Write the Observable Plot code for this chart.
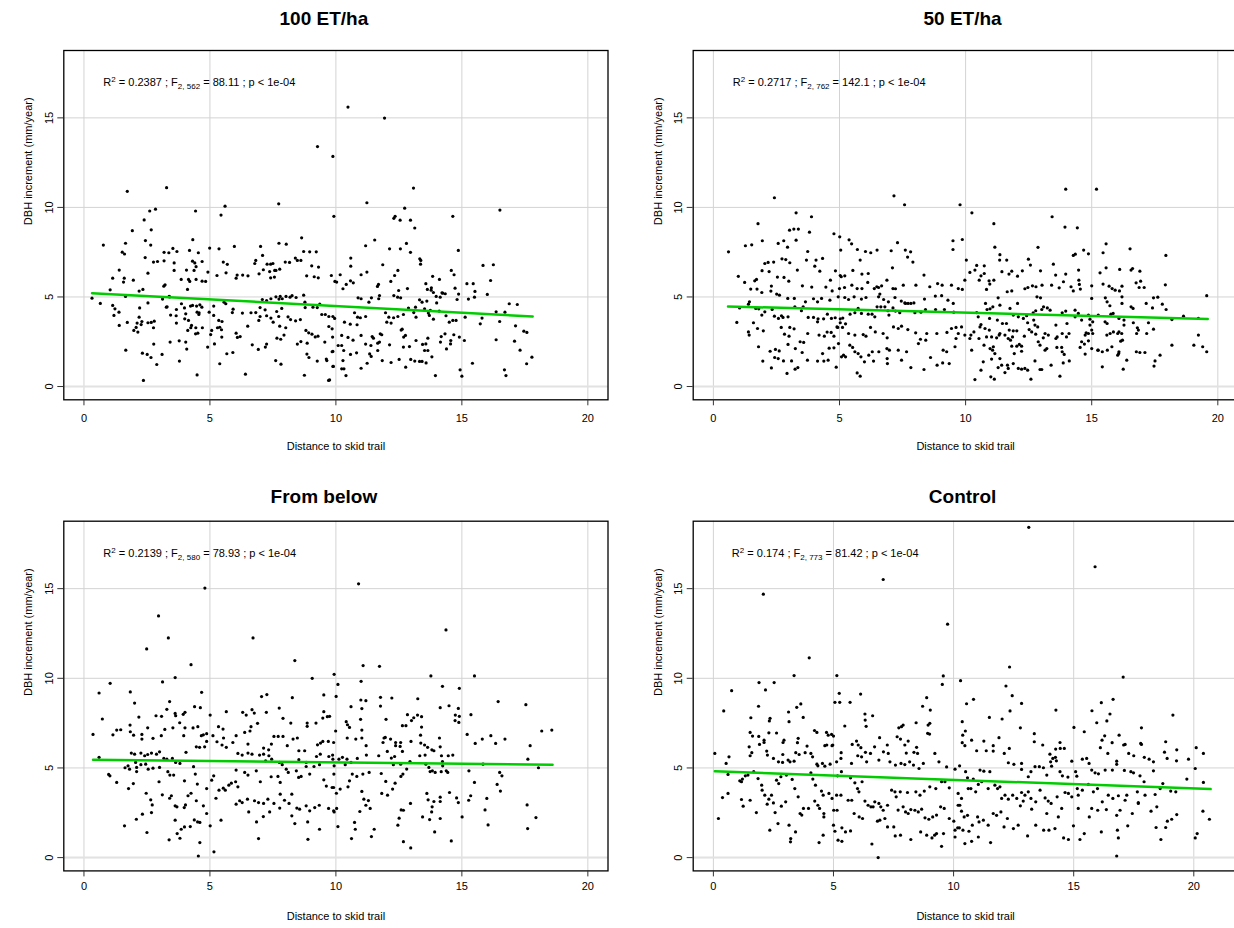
<!DOCTYPE html>
<html><head><meta charset="utf-8">
<script src="https://cdn.jsdelivr.net/npm/d3@7"></script>
<script src="https://cdn.jsdelivr.net/npm/@observablehq/plot@0.6"></script>
<style>
html,body{margin:0;padding:0;background:#fff;overflow:hidden;}
#wrap{position:relative;width:1234px;height:928px;overflow:hidden;background:#fff;}
.panel{position:absolute;overflow:visible;}
</style></head><body><div id="wrap"></div>
<script>
// ---------- data ----------
const xTicks = [0, 5, 10, 15, 20];
const yTicks = [0, 5, 10, 15];
const panelTitles = ["100 ET/ha", "50 ET/ha", "From below", "Control"];
const xLabel = "Distance to skid trail";
const yLabel = "DBH increment (mm/year)";
const r2Values = ["0.2387", "0.2717", "0.2139", "0.174"];
const dfDenom = ["562", "762", "580", "773"];
const fValues = ["88.11", "142.1", "78.93", "81.42"];
const xUpper = [20, 20, 20, 21];
const yUpper = 18.04;
const fitStart = [[0.32, 5.21], [0.58, 4.47], [0.36, 5.46], [0.06, 4.82]];
const fitEnd = [[17.81, 3.91], [19.6, 3.77], [18.6, 5.18], [20.7, 3.82]];

const pts100 = [[9.27,13.4],[9.88,12.85],[9.92,9.5],[1.72,10.9],[3.28,11.1],[1.92,8.7],[0.77,7.9],[2.39,9.3],[2.61,9.8],[2.84,9.9],[2.67,8.75],[1.65,8.0],[2.44,8.15],[2.65,7.9],[1.52,7.5],[1.61,7.4],[4.43,9.8],[5.6,10.07],[5.44,9.57],[4.32,8.2],[7.73,10.2],[8.64,8.3],[7.74,8.0],[8.03,7.95],[8.72,7.54],[8.96,7.52],[9.22,7.52],[5.97,7.82],[4.99,7.73],[5.36,7.69],[3.18,7.49],[3.37,7.47],[3.53,7.71],[3.69,7.54],[4.19,7.6],[4.54,7.47],[7.01,7.82],[7.09,7.32],[8.39,7.17],[8.61,7.04],[2.43,7.2],[2.76,6.95],[2.92,6.98],[3.18,7.02],[3.58,6.9],[3.58,6.48],[1.4,6.5],[1.14,6.05],[1.6,6.05],[1.96,5.94],[1.57,5.83],[2.54,6.33],[4.07,6.5],[4.4,6.9],[4.31,7.0],[4.45,6.69],[4.37,6.48],[4.69,6.98],[3.86,5.98],[4.15,5.98],[4.2,5.87],[4.11,5.42],[4.45,5.98],[4.69,5.88],[4.83,5.87],[4.92,6.39],[5.28,6.2],[5.53,6.95],[5.69,6.82],[5.64,6.35],[6.08,6.22],[6.04,6.05],[6.3,6.22],[6.51,6.18],[6.78,6.87],[6.82,7.04],[6.95,6.29],[7.12,6.52],[7.27,6.83],[7.41,6.83],[7.5,6.87],[7.37,6.42],[7.57,6.48],[7.62,6.48],[7.77,6.55],[7.41,6.07],[7.56,6.11],[7.99,6.95],[8.16,6.93],[8.47,7.04],[8.84,6.18],[9.04,6.74],[9.14,6.13],[9.3,6.07],[9.31,6.67],[3.17,5.6],[3.22,5.68],[3.38,5.03],[3.12,4.88],[3.27,4.43],[3.4,5.0],[2.19,5.33],[2.34,5.42],[1.04,5.4],[1.65,5.03],[0.32,4.93],[0.65,4.64],[1.14,4.53],[1.23,4.34],[1.19,3.97],[1.39,4.15],[1.4,3.41],[1.72,3.58],[2.21,4.39],[2.19,3.87],[2.54,4.67],[2.11,3.54],[2.3,3.63],[2.27,3.46],[2.07,3.3],[2.14,3.04],[1.98,3.13],[2.54,3.56],[2.67,3.58],[2.79,3.65],[2.76,3.28],[3.3,4.45],[3.44,3.99],[3.67,4.3],[3.66,3.95],[3.67,3.54],[3.87,4.62],[3.99,4.39],[4.04,4.06],[4.0,3.78],[4.15,3.69],[4.23,4.49],[4.31,4.53],[4.47,4.49],[4.6,4.56],[4.68,4.43],[4.49,4.15],[4.57,4.12],[4.56,4.02],[4.27,3.41],[4.24,3.28],[4.44,3.28],[4.52,2.98],[4.43,2.94],[4.7,3.28],[4.12,3.13],[4.97,4.15],[5.15,3.97],[5.15,4.49],[5.56,4.71],[5.63,4.62],[5.03,2.9],[5.07,3.13],[5.3,3.28],[5.39,3.31],[5.35,3.69],[5.48,3.63],[5.18,2.38],[5.46,3.17],[5.47,2.76],[5.89,4.13],[5.92,4.32],[6.04,2.98],[6.09,2.74],[6.2,2.79],[6.29,4.1],[6.5,3.37],[6.63,4.12],[6.82,4.13],[6.99,4.41],[6.94,3.69],[6.99,3.91],[6.68,2.33],[6.92,2.07],[7.2,2.2],[7.25,2.37],[7.08,4.86],[7.25,4.8],[7.42,4.9],[7.62,5.01],[7.74,4.88],[7.79,5.03],[7.87,4.9],[8.02,5.03],[8.18,4.99],[8.26,5.07],[8.42,4.97],[8.72,5.1],[8.77,4.71],[8.78,4.41],[7.19,4.28],[7.25,3.95],[7.42,3.82],[7.51,3.59],[7.65,4.19],[7.73,3.91],[7.85,4.36],[8.1,3.89],[8.2,3.74],[8.4,3.67],[8.59,3.74],[7.77,3.37],[8.01,3.28],[7.66,2.7],[7.81,2.64],[7.94,2.87],[8.47,2.37],[8.61,2.51],[8.86,2.42],[8.81,3.13],[8.92,3.0],[9.05,2.92],[9.18,2.77],[9.29,2.81],[8.85,1.81],[8.93,1.62],[9.26,1.42],[9.62,1.53],[9.64,1.45],[9.56,2.48],[9.09,4.43],[9.26,4.41],[9.36,4.6],[9.44,4.02],[9.58,4.02],[9.72,3.91],[9.72,3.35],[9.85,3.22],[9.85,1.94],[9.71,0.34],[9.88,1.12],[8.75,0.63],[6.41,0.69],[4.49,0.65],[2.36,0.34],[2.32,1.86],[2.51,1.79],[2.66,1.62],[2.89,1.23],[3.1,1.79],[2.77,2.37],[1.66,2.03],[3.42,2.48],[3.78,2.55],[4.04,2.48],[4.08,2.09],[3.79,1.42],[5.39,1.27],[5.67,1.83],[5.91,1.9],[4.91,2.2],[7.61,1.45],[7.82,1.25],
[10.48,15.6],[11.93,14.99],[13.08,11.08],[11.23,10.26],[12.73,9.96],[12.3,9.39],[12.35,9.5],[12.55,9.29],[12.96,9.29],[13.13,8.85],[14.64,9.5],[16.51,9.85],[11.18,7.86],[11.54,8.18],[12.13,7.69],[12.56,7.69],[12.8,7.99],[12.96,7.49],[14.86,7.6],[10.59,7.17],[10.59,6.72],[11.86,6.8],[13.33,7.13],[13.37,7.04],[13.36,6.83],[15.84,6.76],[16.25,6.8],[11.0,6.24],[11.23,6.39],[12.46,6.48],[12.33,6.2],[10.17,6.24],[9.82,6.2],[9.96,5.87],[10.03,5.83],[10.28,5.46],[10.41,5.7],[10.58,5.9],[10.69,5.79],[11.65,5.59],[11.69,5.7],[11.73,5.08],[12.18,5.87],[12.49,5.36],[12.57,4.95],[12.84,5.47],[13.57,5.74],[13.63,5.42],[13.84,6.15],[14.11,5.98],[13.79,5.51],[13.78,5.38],[13.87,5.25],[14.21,5.23],[14.34,5.18],[14.58,6.48],[14.69,6.24],[14.73,5.49],[15.2,5.74],[15.45,5.74],[15.52,5.31],[16.01,5.14],[16.14,5.92],[14.87,5.16],[14.81,4.86],[15.26,4.88],[15.5,4.99],[16.88,4.62],[17.2,4.58],[10.88,4.95],[11.0,4.9],[11.41,4.95],[11.31,4.71],[11.7,4.9],[12.3,5.08],[12.45,4.99],[13.32,4.84],[13.42,4.71],[13.61,4.77],[13.16,4.43],[13.52,4.34],[13.75,4.25],[14.0,4.67],[13.98,5.03],[14.14,4.99],[14.24,5.21],[10.74,4.12],[10.86,3.87],[10.97,3.84],[11.18,3.91],[9.88,3.91],[9.95,3.8],[10.34,3.59],[10.57,3.48],[10.84,3.45],[11.97,4.12],[12.1,3.87],[12.29,3.84],[12.46,3.91],[12.68,4.02],[12.02,3.59],[12.19,3.54],[12.88,4.38],[13.09,4.13],[13.18,3.87],[13.67,4.1],[13.71,3.97],[13.87,3.76],[14.1,4.21],[14.37,3.95],[14.5,3.59],[14.64,3.69],[14.77,3.69],[15.13,3.87],[15.73,3.5],[15.8,3.82],[16.36,4.17],[16.5,3.63],[16.71,4.15],[17.13,3.39],[17.46,3.09],[17.58,3.02],[16.36,2.61],[17.09,2.53],[17.31,2.03],[17.57,1.27],[17.78,1.64],[16.69,0.93],[16.75,0.61],[15.42,1.3],[14.93,0.93],[15.0,0.58],[14.9,2.76],[15.1,2.57],[14.68,2.89],[14.56,2.57],[14.33,2.94],[14.15,2.48],[14.18,2.79],[14.39,2.1],[14.55,2.38],[13.81,1.66],[13.95,0.61],[13.52,2.01],[13.65,2.01],[13.58,1.32],[13.42,1.4],[13.65,2.7],[13.57,2.38],[13.44,2.35],[12.69,2.76],[12.76,2.85],[13.18,2.57],[12.92,2.23],[12.68,2.2],[12.77,1.08],[12.97,1.51],[13.13,1.42],[13.32,1.4],[12.59,3.15],[12.63,3.2],[12.51,1.51],[12.13,2.33],[12.19,1.34],[11.84,1.45],[11.66,2.01],[11.73,2.48],[11.76,2.94],[11.82,2.89],[11.66,2.42],[11.44,2.79],[11.49,2.7],[11.39,2.29],[11.18,2.37],[11.34,1.82],[11.4,1.68],[11.24,1.3],[11.0,2.85],[11.0,1.02],[10.82,1.88],[10.58,1.79],[10.48,2.74],[10.68,2.59],[10.23,2.85],[10.23,2.29],[10.28,1.45],[10.31,2.01],[10.23,0.99],[10.32,0.99],[10.4,0.61],[9.88,1.96],[9.9,1.12],[9.87,2.76],[10.09,2.29],[9.75,0.37]];

const pts50 = [[2.42,10.54],[7.16,10.65],[7.58,10.15],[9.78,10.15],[3.28,9.7],[3.89,9.48],[1.77,9.09],[3.02,8.73],[3.19,8.79],[3.37,8.79],[3.81,8.62],[4.78,8.53],[5.01,8.36],[5.38,8.19],[5.48,7.97],[0.6,7.52],[1.27,7.86],[1.52,7.91],[1.94,8.14],[2.57,7.99],[2.79,8.14],[2.94,7.78],[3.28,8.17],[5.05,7.62],[5.71,7.65],[6.03,7.54],[6.24,7.47],[6.49,7.62],[7.05,7.58],[7.3,8.03],[7.61,7.62],[7.82,7.52],[9.5,8.14],[9.5,7.65],[3.74,7.54],[2.72,7.13],[2.87,7.09],[3.03,6.91],[2.04,6.87],[2.17,6.93],[2.39,6.95],[3.69,7.06],[4.07,7.06],[4.33,7.15],[4.02,6.72],[1.93,6.47],[3.33,6.5],[4.22,6.44],[5.82,7.06],[7.7,7.23],[7.91,6.95],[7.1,6.63],[4.84,6.46],[5.03,6.2],[5.21,6.18],[5.53,6.48],[5.89,6.28],[6.14,6.31],[0.99,6.15],[1.24,5.81],[1.64,5.9],[1.71,5.98],[2.3,5.61],[2.54,6.11],[2.8,6.09],[2.99,5.88],[2.21,6.42],[2.62,5.1],[2.51,5.16],[1.92,5.25],[1.73,5.44],[1.48,5.44],[2.28,5.33],[3.53,5.62],[3.9,5.55],[4.46,5.55],[4.64,5.94],[4.71,5.34],[5.0,5.47],[5.07,6.13],[5.2,5.53],[5.49,5.66],[5.7,5.47],[5.89,5.47],[6.12,5.81],[6.38,5.47],[6.48,5.57],[6.55,5.53],[6.67,5.62],[6.88,5.94],[7.12,5.47],[7.22,5.46],[7.53,5.66],[8.03,5.66],[8.35,6.22],[8.58,5.57],[8.89,5.75],[9.07,5.66],[9.44,5.66],[9.71,5.47],[2.95,4.92],[3.21,4.92],[3.65,4.73],[3.97,4.9],[4.13,4.73],[4.29,4.92],[4.62,4.82],[4.95,5.01],[5.21,4.97],[5.36,4.86],[5.58,5.01],[5.87,4.88],[6.05,4.97],[6.55,5.01],[6.6,5.16],[6.75,4.86],[6.94,4.73],[7.2,4.97],[7.45,4.77],[7.59,4.67],[7.72,4.64],[7.95,4.67],[8.37,4.88],[8.8,5.05],[9.05,5.07],[9.3,4.82],[9.51,4.64],[0.93,3.58],[1.04,4.39],[1.43,4.73],[1.39,4.6],[1.68,4.36],[1.8,4.34],[2.04,4.17],[1.92,3.99],[2.33,4.3],[2.42,3.93],[2.58,3.8],[2.7,3.95],[2.76,3.86],[2.96,3.89],[3.23,4.45],[3.56,4.45],[3.49,4.23],[3.76,3.86],[3.97,3.86],[4.15,3.78],[4.13,3.61],[4.37,3.78],[4.52,4.04],[4.68,3.8],[4.83,3.84],[5.03,3.78],[5.13,3.82],[5.24,3.5],[5.12,3.3],[4.93,3.3],[5.42,4.04],[5.61,4.12],[5.74,4.36],[5.87,4.08],[6.14,4.04],[6.29,4.04],[6.4,3.89],[6.49,4.45],[6.64,4.45],[6.8,4.45],[6.92,4.23],[6.96,3.99],[7.12,4.39],[7.22,4.21],[7.39,4.12],[7.62,4.64],[7.83,4.64],[7.99,4.12],[8.23,4.15],[8.41,4.3],[8.81,4.3],[9.16,4.3],[9.53,4.15],[1.39,3.05],[1.42,2.87],[1.98,3.11],[1.75,3.24],[1.59,3.56],[2.82,2.92],[3.0,2.81],[3.2,3.22],[2.69,3.3],[3.03,3.3],[3.44,2.5],[3.58,2.46],[3.74,2.96],[4.19,2.87],[4.4,2.81],[4.51,3.04],[4.67,3.02],[4.78,2.81],[4.9,3.33],[5.03,3.56],[5.36,2.96],[5.61,2.87],[5.94,2.9],[6.05,2.81],[6.23,3.3],[6.42,3.05],[6.73,2.96],[6.89,2.72],[7.14,3.33],[7.33,3.24],[7.46,3.37],[7.71,3.18],[8.02,3.0],[8.46,2.96],[8.86,2.96],[9.26,3.02],[9.44,3.24],[9.62,3.3],[1.79,2.22],[2.25,1.97],[2.46,2.07],[2.61,1.99],[2.43,1.62],[2.57,1.56],[2.78,1.43],[1.96,1.42],[2.3,1.04],[2.92,0.73],[3.24,0.97],[3.35,1.06],[3.1,1.43],[2.96,2.35],[3.25,2.12],[3.52,1.9],[3.73,1.47],[4.13,1.42],[4.38,1.42],[4.55,1.47],[4.87,1.08],[4.33,1.84],[4.59,2.14],[4.78,2.16],[4.96,2.4],[5.08,1.66],[5.16,1.75],[5.24,1.66],[5.41,2.31],[5.52,2.18],[5.61,1.94],[5.74,1.84],[5.85,1.66],[6.16,1.75],[6.3,1.94],[6.56,1.94],[5.99,1.38],[6.35,1.42],[5.7,0.76],[5.82,0.58],[6.88,2.12],[6.98,2.03],[6.89,1.56],[6.9,1.28],[7.33,2.03],[7.66,1.94],[7.46,1.47],[7.83,1.06],[8.35,0.95],[8.61,1.62],[8.87,1.19],[9.09,1.32],[9.35,1.28],[9.11,2.03],[9.25,1.94],[9.58,2.22],[9.62,2.68],[9.71,2.96],[8.13,2.4],[8.21,2.64],[8.42,2.59],
[13.97,11.02],[15.19,11.02],[10.25,9.7],[11.12,9.09],[13.43,9.48],[13.94,8.9],[14.43,8.86],[9.87,8.21],[10.03,7.06],[11.16,7.78],[11.36,7.36],[11.35,7.06],[11.63,7.06],[12.87,7.77],[14.27,7.32],[14.35,7.39],[14.68,7.62],[14.87,7.41],[15.57,7.97],[15.45,7.47],[16.52,7.69],[17.94,7.32],[10.44,6.76],[10.74,6.74],[10.74,6.31],[10.37,6.5],[10.17,6.37],[9.97,5.94],[9.87,5.42],[10.54,5.94],[10.61,6.18],[10.93,5.9],[11.12,5.94],[11.44,6.41],[11.72,6.28],[11.83,6.44],[12.06,6.16],[12.25,6.46],[12.49,7.11],[12.57,6.78],[12.97,6.46],[13.48,6.83],[13.57,6.22],[13.97,6.28],[14.48,6.5],[14.49,5.94],[14.51,5.7],[15.0,5.62],[15.33,6.35],[15.45,5.72],[15.57,6.63],[15.69,5.6],[15.81,5.47],[16.11,6.54],[15.93,5.38],[16.1,5.34],[16.2,5.6],[16.2,5.01],[16.56,6.5],[16.62,6.59],[16.91,6.44],[16.94,5.88],[16.76,5.79],[16.88,5.53],[17.08,5.53],[17.92,5.68],[19.56,5.07],[10.83,5.42],[10.96,5.72],[11.29,4.95],[11.65,5.29],[11.83,5.34],[12.06,4.64],[12.35,5.46],[12.47,5.53],[12.65,5.62],[12.79,5.57],[12.83,5.01],[12.97,4.95],[13.03,5.66],[13.09,4.45],[13.41,5.66],[13.71,5.51],[13.88,5.85],[14.18,5.57],[14.27,5.34],[14.55,5.44],[15.0,4.92],[15.54,4.95],[15.61,4.73],[15.72,4.51],[16.2,4.64],[17.45,4.95],[17.62,4.99],[17.16,4.64],[17.41,4.39],[17.8,4.6],[17.95,4.3],[16.56,4.45],[16.64,4.36],[10.44,4.13],[10.5,3.89],[10.79,4.64],[10.85,4.3],[10.97,4.34],[11.08,4.45],[11.36,4.54],[10.95,3.8],[11.26,3.71],[11.46,3.52],[11.62,3.52],[11.76,4.36],[11.89,3.99],[12.09,3.89],[12.29,3.8],[12.42,3.95],[12.68,4.12],[12.78,4.23],[13.02,4.3],[13.24,4.39],[13.35,4.26],[12.75,3.43],[12.86,3.33],[12.7,3.71],[13.58,3.43],[13.83,4.12],[13.97,4.21],[14.34,4.26],[14.47,4.08],[14.34,3.89],[14.6,3.71],[14.87,3.99],[14.93,3.76],[15.04,3.61],[14.93,3.43],[15.26,3.99],[15.53,3.61],[15.61,3.52],[15.76,4.04],[15.85,4.08],[16.08,3.8],[16.28,3.71],[16.28,3.43],[16.65,3.56],[16.81,3.28],[16.85,3.15],[17.25,3.56],[17.45,3.2],[17.18,2.96],[18.18,3.74],[18.64,3.93],[19.23,3.8],[19.23,2.87],[19.05,2.31],[19.4,2.22],[19.56,1.94],[18.18,2.31],[17.71,1.75],[17.51,1.43],[17.47,1.14],[16.78,2.96],[16.77,1.94],[16.91,1.9],[17.11,1.9],[16.39,1.47],[16.25,0.97],[16.08,3.05],[16.03,2.96],[16.19,2.96],[16.22,2.59],[16.15,2.53],[16.08,1.94],[16.07,1.84],[16.03,1.75],[15.6,2.87],[15.73,2.96],[15.86,3.05],[15.8,2.22],[15.62,2.03],[15.42,1.94],[15.26,2.03],[15.42,1.1],[15.04,2.96],[15.0,3.15],[14.87,2.96],[14.74,2.87],[14.78,3.0],[14.87,2.55],[14.6,2.5],[14.71,2.37],[14.54,2.18],[14.74,1.81],[15.0,2.12],[15.24,2.03],[14.02,3.52],[14.1,2.96],[14.0,2.77],[13.83,2.96],[13.63,2.77],[13.58,2.68],[13.62,2.18],[13.81,2.18],[13.83,1.94],[13.91,1.79],[13.87,1.32],[13.74,0.58],[14.11,1.43],[13.28,2.87],[13.15,2.96],[13.08,2.72],[13.22,2.12],[13.15,2.03],[13.39,1.19],[13.02,0.95],[12.95,0.95],[12.75,1.43],[12.88,2.5],[12.95,2.31],[12.78,2.92],[12.62,3.05],[12.59,0.41],[12.46,3.56],[12.52,3.18],[12.33,2.81],[12.22,2.25],[12.22,1.97],[12.35,1.01],[12.46,0.91],[12.22,0.97],[12.09,1.01],[11.89,1.28],[11.69,1.01],[11.56,0.78],[11.66,1.19],[12.13,2.35],[12.03,2.25],[11.93,1.84],[11.83,2.25],[11.73,3.15],[11.89,3.11],[12.03,3.11],[11.69,2.68],[11.78,2.59],[11.86,2.77],[11.56,2.87],[11.33,2.87],[11.36,2.96],[11.23,2.72],[11.03,2.77],[10.94,3.15],[11.1,2.22],[10.97,2.12],[11.07,2.03],[11.16,1.84],[11.03,1.53],[11.36,1.56],[11.43,1.19],[11.29,1.06],[11.14,0.41],[11.0,0.54],[10.73,2.31],[10.7,1.38],[10.61,0.91],[10.37,0.39],[10.24,2.03],[10.17,2.68],[10.21,2.87],[9.97,2.87],[9.84,3.33],[10.57,3.33],[10.61,3.46],[10.77,3.24],[10.83,2.77],[10.53,2.68],[10.33,3.05]];

const ptsBelow = [[4.8,15.03],[2.96,13.48],[3.35,12.25],[2.49,11.64],[6.71,12.25],[8.37,10.99],[4.25,10.76],[3.62,10.04],[3.12,9.8],[1.04,9.72],[9.06,10.0],[9.93,10.22],[0.6,9.18],[1.84,9.24],[4.67,9.22],[2.01,8.62],[3.4,8.7],[4.39,8.42],[4.62,8.36],[7.05,8.98],[7.26,9.09],[8.27,8.92],[9.52,9.07],[0.73,7.73],[2.18,7.84],[2.86,7.91],[3.08,7.88],[3.29,8.27],[3.62,8.04],[3.64,7.91],[3.94,7.99],[4.01,8.1],[5.01,7.95],[5.65,8.14],[6.3,8.1],[6.44,7.95],[6.67,8.25],[6.76,8.06],[6.89,7.49],[7.24,8.1],[7.75,8.34],[7.9,7.77],[8.21,7.5],[8.86,7.5],[8.86,7.32],[9.21,7.5],[9.48,7.78],[9.66,7.86],[9.52,8.14],[0.36,6.87],[1.15,6.85],[1.3,7.11],[1.46,7.13],[1.83,7.39],[1.84,7.02],[1.97,6.83],[2.3,6.87],[2.53,7.24],[2.3,6.61],[2.74,6.65],[3.07,6.8],[3.21,7.15],[3.53,7.24],[3.8,7.52],[4.01,7.24],[3.96,6.8],[4.33,7.23],[4.52,7.3],[4.66,6.8],[4.74,6.85],[4.87,6.91],[4.46,6.18],[4.59,6.15],[4.79,6.18],[4.87,6.48],[5.12,6.8],[5.34,7.3],[5.52,7.17],[5.54,6.67],[5.28,6.46],[5.48,6.28],[5.65,6.15],[5.91,6.42],[6.04,6.8],[6.38,6.98],[6.59,7.06],[6.63,7.3],[6.51,6.33],[7.13,6.11],[7.33,6.01],[7.44,6.33],[7.54,6.76],[7.71,6.76],[7.9,6.76],[8.07,6.24],[8.3,6.61],[8.47,6.67],[8.53,5.96],[8.76,5.96],[9.27,6.29],[9.39,6.39],[9.48,6.48],[9.7,6.48],[9.91,6.42],[0.6,5.59],[0.98,4.64],[1.03,4.56],[1.3,4.19],[1.63,5.01],[1.75,5.12],[1.81,4.93],[1.77,3.85],[1.96,4.13],[1.88,5.83],[2.01,5.77],[2.26,5.83],[2.05,5.31],[2.09,5.03],[2.09,4.8],[2.41,5.68],[2.53,5.75],[2.68,5.83],[2.88,5.77],[3.0,5.9],[3.17,5.53],[3.29,5.49],[3.51,5.53],[2.26,5.18],[2.45,5.21],[2.55,4.93],[2.74,4.99],[3.0,5.03],[2.98,4.23],[3.33,4.79],[3.41,4.6],[3.56,4.6],[3.64,5.31],[3.81,5.25],[3.99,4.28],[4.05,5.87],[4.35,5.07],[4.42,4.66],[2.47,3.59],[2.65,3.22],[2.71,2.94],[2.68,2.51],[2.32,2.42],[2.08,2.14],[1.61,1.77],[2.5,1.4],[3.11,3.5],[3.47,3.45],[3.4,3.31],[3.62,2.89],[3.69,2.83],[3.98,2.79],[4.13,3.45],[4.03,2.94],[4.25,3.59],[4.46,3.17],[4.5,4.1],[4.87,3.85],[3.62,2.09],[3.7,1.34],[3.38,0.99],[3.81,1.08],[3.86,1.58],[3.99,1.71],[4.22,1.73],[4.38,2.1],[4.51,1.99],[4.6,1.96],[5.01,1.77],[4.74,2.89],[4.87,2.46],[5.24,3.31],[5.44,2.09],[4.6,0.84],[4.54,0.09],[5.16,0.32],[5.07,4.32],[5.15,4.56],[5.36,3.76],[5.53,3.87],[5.61,3.76],[5.75,4.04],[5.85,4.15],[6.02,4.23],[6.11,3.95],[6.04,4.88],[6.38,4.75],[6.51,4.6],[6.84,4.84],[7.0,4.23],[7.43,4.51],[7.7,4.53],[7.79,4.19],[7.87,5.18],[8.03,4.93],[8.11,4.75],[8.43,4.84],[8.52,4.47],[8.62,4.53],[8.82,5.08],[8.96,4.66],[9.13,5.08],[9.35,5.18],[9.52,4.34],[9.62,3.99],[9.85,3.91],[9.92,4.66],[6.04,2.98],[6.18,3.17],[6.28,3.07],[6.49,3.26],[6.54,2.55],[6.77,3.17],[6.93,3.07],[7.13,3.02],[7.3,3.26],[7.54,3.02],[7.79,3.54],[7.96,3.2],[8.14,3.02],[8.25,3.54],[8.45,2.76],[8.56,2.7],[8.82,2.89],[8.96,2.61],[9.16,2.79],[9.34,2.92],[9.71,2.74],[9.91,2.61],[6.93,1.06],[6.85,1.99],[7.12,2.29],[7.37,2.55],[7.77,2.76],[8.25,2.33],[8.37,1.9],[8.88,1.99],[8.89,1.02],[9.35,1.58],[6.11,5.81],[6.28,5.72],[6.51,5.83],[6.67,5.77],[6.97,5.72],[7.13,5.77],[7.34,5.68],[7.45,5.49],[7.21,5.4],[7.76,5.31],[8.53,5.46],[8.82,5.31],[9.23,5.64],[9.38,5.77],[9.72,5.64],[9.88,5.49],
[10.9,15.27],[14.37,12.7],[11.08,10.71],[11.73,10.67],[13.77,10.13],[15.5,10.13],[11.0,9.83],[10.08,9.66],[14.23,9.55],[14.9,9.44],[10.01,8.99],[10.99,8.79],[11.19,8.75],[11.77,8.94],[12.22,8.9],[13.25,8.86],[16.44,8.7],[17.54,8.53],[10.6,8.42],[11.03,8.31],[11.77,8.45],[14.14,8.36],[14.49,8.47],[14.86,8.32],[10.98,7.71],[11.99,7.71],[12.84,7.97],[13.09,7.8],[13.24,7.95],[13.4,7.86],[14.74,7.95],[14.9,7.88],[14.73,7.64],[14.88,7.54],[15.36,7.97],[10.41,7.58],[10.46,7.41],[10.54,7.26],[12.64,7.36],[12.78,7.36],[13.0,7.64],[13.4,7.28],[11.03,7.11],[9.99,7.06],[9.75,7.88],[18.17,7.06],[18.57,7.11],[15.21,6.87],[15.53,6.37],[15.81,6.61],[16.15,6.8],[16.34,6.37],[16.71,6.61],[17.71,6.24],[10.45,6.67],[10.79,6.61],[11.03,6.67],[11.2,6.24],[11.87,6.42],[11.91,6.67],[11.96,6.7],[12.17,6.61],[12.37,6.42],[12.37,6.24],[12.57,6.42],[12.55,6.2],[12.98,6.48],[12.04,5.92],[12.33,5.64],[12.64,5.92],[13.36,6.83],[13.37,6.39],[13.52,6.28],[13.64,6.15],[13.81,6.01],[13.89,5.96],[14.11,6.67],[14.14,6.18],[9.87,5.72],[10.12,5.49],[10.26,5.59],[10.44,5.49],[10.6,5.31],[10.85,5.53],[11.21,5.72],[11.7,5.68],[12.2,5.55],[12.28,5.18],[12.57,5.21],[12.94,5.36],[13.33,5.68],[13.54,5.72],[13.57,5.21],[13.69,5.03],[14.19,5.68],[14.23,5.36],[14.46,5.68],[14.64,5.72],[14.24,5.12],[14.38,4.84],[14.44,4.75],[13.94,4.75],[14.18,4.79],[13.83,4.84],[13.74,4.8],[15.84,5.21],[15.28,4.84],[16.5,4.75],[16.59,4.56],[17.62,5.49],[18.04,5.01],[9.93,5.12],[10.37,5.18],[11.07,4.66],[11.32,4.75],[11.8,4.69],[11.98,4.25],[11.82,3.58],[12.05,3.48],[12.25,3.82],[12.35,4.15],[12.58,4.53],[12.66,4.66],[12.81,4.94],[10.48,3.95],[10.54,4.28],[10.65,4.66],[10.83,4.53],[10.17,3.82],[9.91,3.91],[10.02,3.59],[11.03,3.69],[11.11,3.26],[11.29,3.18],[11.19,2.92],[11.36,2.74],[10.95,2.57],[10.74,1.96],[10.77,1.58],[10.62,1.06],[10.08,1.73],[9.93,2.55],[10.03,2.74],[11.52,1.58],[11.41,1.17],[12.46,1.81],[12.51,2.2],[12.59,2.66],[12.68,2.64],[12.96,3.02],[12.68,0.89],[12.97,0.54],[13.44,2.27],[13.72,2.12],[13.92,1.43],[13.82,2.83],[13.8,2.55],[13.66,3.22],[13.61,3.58],[13.89,3.13],[14.14,3.37],[14.14,3.13],[14.14,2.18],[14.51,3.63],[14.58,0.93],[14.79,3.33],[14.86,3.07],[15.01,2.27],[15.27,3.2],[15.35,3.45],[15.5,4.19],[15.92,2.66],[15.99,3.3],[16.04,1.82],[16.4,4.08],[16.53,3.71],[17.59,2.94],[17.94,2.23],[17.61,1.62]];

const ptsControl = [[2.08,14.69],[7.07,15.51],[9.75,13.02],[3.99,11.14],[5.14,10.15],[3.36,10.15],[1.9,9.76],[2.53,9.76],[2.17,9.35],[0.76,9.31],[9.57,10.13],[9.53,9.66],[10.29,9.87],[5.06,8.66],[5.26,8.66],[5.69,8.66],[5.24,9.16],[6.13,9.12],[0.43,8.18],[1.88,8.44],[3.13,8.12],[3.47,8.38],[3.64,8.57],[3.74,7.82],[6.31,8.01],[6.32,7.67],[6.63,7.91],[6.36,7.32],[5.47,7.34],[8.88,8.92],[8.71,8.44],[9.03,8.23],[9.01,7.49],[8.94,7.39],[1.56,7.8],[2.36,7.77],[2.33,7.62],[3.15,7.58],[7.72,7.24],[7.9,7.39],[8.44,7.52],[8.92,6.93],[9.0,6.89],[1.53,6.98],[1.63,6.78],[1.89,6.76],[2.11,6.55],[2.31,6.96],[2.63,6.95],[2.9,6.42],[2.94,6.55],[3.53,6.65],[3.5,6.41],[4.21,7.09],[4.31,6.98],[4.71,6.98],[4.78,6.83],[4.92,6.87],[5.0,6.78],[4.72,6.28],[4.97,6.28],[4.64,6.24],[5.32,5.85],[5.78,6.31],[5.96,6.5],[6.03,6.28],[6.14,6.13],[6.33,5.87],[6.71,6.18],[6.92,6.69],[7.24,6.28],[7.65,6.74],[7.83,7.3],[7.79,6.61],[7.97,6.28],[8.11,6.5],[8.46,6.15],[8.35,5.87],[8.03,5.83],[8.5,5.81],[1.49,6.18],[1.6,5.85],[1.53,5.68],[1.92,6.31],[2.11,6.42],[2.22,5.94],[2.25,5.72],[2.5,5.53],[2.71,5.34],[2.88,5.31],[3.11,5.44],[3.19,5.34],[2.89,5.75],[3.36,5.38],[3.43,5.85],[3.57,5.75],[3.82,5.85],[3.9,6.22],[4.06,5.81],[4.13,5.62],[4.31,5.21],[4.35,5.12],[4.54,5.25],[4.64,5.1],[4.86,5.21],[4.94,6.24],[5.13,5.34],[5.31,5.53],[5.75,5.25],[6.01,5.68],[6.17,5.62],[6.38,5.34],[6.54,5.81],[6.89,5.44],[7.08,5.9],[7.28,5.81],[7.35,5.34],[7.58,5.16],[7.81,5.25],[7.97,5.19],[8.17,5.34],[8.33,5.16],[8.56,4.97],[8.74,5.25],[9.22,5.81],[9.39,5.34],[9.71,5.06],[10.06,4.93],[10.25,5.12],[0.06,5.81],[0.53,5.25],[0.65,5.62],[0.61,4.64],[1.17,4.23],[1.1,4.28],[1.21,4.38],[1.33,4.56],[1.44,4.6],[1.53,3.2],[1.17,3.24],[0.38,3.35],[0.21,2.18],[0.61,3.58],[1.24,2.87],[1.68,4.79],[1.86,4.41],[2.01,4.04],[2.03,3.76],[2.14,3.48],[2.31,3.26],[2.42,3.48],[2.63,4.32],[2.72,4.13],[2.81,4.51],[3.04,4.6],[1.79,2.51],[2.24,2.98],[2.5,3.05],[2.69,1.9],[2.83,2.87],[2.57,2.51],[3.01,3.11],[3.15,1.81],[2.35,1.53],[3.22,1.06],[3.21,0.88],[3.42,1.43],[3.28,4.36],[3.39,3.85],[3.53,3.39],[3.75,2.74],[3.61,2.46],[3.68,2.37],[3.96,2.74],[4.22,3.15],[4.35,2.92],[4.42,2.74],[4.6,2.46],[4.6,2.27],[4.06,4.73],[4.14,4.38],[4.25,4.04],[4.5,3.71],[4.57,3.48],[4.81,3.58],[4.94,3.3],[5.13,3.48],[5.31,3.48],[5.01,2.64],[5.15,2.64],[4.4,0.84],[4.57,1.25],[5.0,1.81],[5.06,1.47],[5.19,0.97],[5.35,0.91],[5.35,1.66],[5.5,1.43],[5.71,1.49],[5.33,4.79],[5.17,4.56],[5.71,4.45],[5.89,4.17],[6.0,3.85],[6.06,3.67],[6.19,4.23],[5.61,3.2],[5.76,3.2],[5.86,2.46],[6.07,2.27],[6.21,2.18],[6.31,3.15],[6.44,2.92],[6.56,2.83],[6.65,2.83],[6.72,3.11],[6.89,3.02],[6.97,2.83],[7.07,2.64],[7.25,2.92],[7.42,3.76],[7.56,3.67],[6.6,0.76],[6.86,0.0],[6.93,2.09],[6.83,2.03],[7.14,2.18],[7.25,1.71],[7.51,1.71],[7.57,1.21],[7.79,1.25],[8.22,1.01],[7.69,2.65],[7.9,2.83],[8.0,2.55],[8.11,2.46],[8.22,2.68],[7.61,3.39],[7.78,3.67],[8.08,3.63],[8.43,3.67],[8.6,3.48],[8.78,3.71],[9.01,3.95],[9.26,3.85],[9.5,4.23],[9.64,4.23],[9.82,3.89],[8.39,2.64],[8.53,2.55],[8.67,2.7],[8.81,2.22],[8.97,2.14],[9.13,2.27],[9.29,2.37],[9.46,2.83],[9.61,2.74],[9.82,2.18],[10.01,2.03],[10.17,1.66],[10.26,2.92],[8.63,1.43],[8.88,1.25],[9.1,1.1],[9.21,1.25],[9.29,1.34],[9.5,0.63],[9.58,1.34],[10.06,1.15],[10.06,1.53],
[13.13,18.42],[15.89,16.22],[12.33,10.63],[17.06,10.07],[12.18,9.57],[12.44,9.03],[12.35,8.18],[12.83,8.6],[10.83,8.83],[10.54,8.58],[14.26,8.23],[15.76,8.19],[16.15,8.64],[16.64,8.83],[16.51,8.01],[16.38,7.62],[15.96,7.52],[19.13,7.95],[11.49,7.82],[12.02,7.73],[10.36,7.58],[10.38,6.83],[10.49,7.06],[10.36,6.41],[10.47,6.24],[12.78,7.24],[13.36,6.91],[13.36,6.46],[11.89,6.69],[11.65,6.24],[10.75,6.55],[11.26,6.5],[10.96,5.96],[11.36,5.96],[15.01,7.26],[15.44,7.02],[14.43,6.42],[14.25,6.05],[14.44,6.09],[13.71,6.28],[14.01,5.77],[14.13,5.53],[14.28,5.4],[14.61,6.09],[14.24,5.59],[16.29,6.79],[16.18,6.55],[16.6,6.41],[16.11,6.13],[16.42,5.81],[16.89,6.83],[17.08,6.28],[17.14,6.31],[17.29,5.81],[17.5,5.68],[17.82,7.24],[17.79,6.37],[17.82,6.31],[17.94,5.59],[18.14,5.49],[18.32,5.34],[18.83,6.46],[18.78,5.88],[18.89,5.53],[19.29,6.01],[19.28,5.4],[19.78,5.49],[20.1,6.13],[20.4,5.81],
[10.5,4.79],[10.58,4.45],[10.82,4.38],[11.1,4.88],[11.26,4.82],[11.51,4.79],[11.65,5.94],[12.11,5.81],[12.32,6.09],[12.28,5.29],[12.51,5.2],[12.83,5.25],[12.83,4.92],[13.11,4.51],[13.22,4.79],[13.39,5.07],[13.57,5.07],[13.74,5.01],[13.88,4.6],[14.04,5.34],[14.08,5.1],[14.43,4.79],[14.53,4.56],[14.76,4.49],[14.92,5.38],[15.08,4.79],[15.13,4.54],[15.36,5.49],[15.54,5.53],[15.64,5.25],[15.75,4.88],[15.89,4.73],[16.03,4.67],[16.31,4.88],[16.61,4.88],[16.79,5.38],[16.79,5.2],[17.11,4.86],[17.38,4.79],[17.49,4.73],[17.76,4.56],[17.93,4.23],[18.32,4.84],[18.71,4.13],
[10.19,3.58],[10.33,3.3],[10.61,3.85],[10.72,3.85],[10.92,3.67],[11.03,4.08],[11.17,4.23],[11.44,3.85],[11.72,4.04],[11.83,3.85],[11.93,3.95],[12.0,3.3],[12.14,3.48],[12.28,3.26],[12.46,3.48],[12.63,3.3],[12.83,3.63],[12.97,3.48],[13.11,3.67],[13.22,3.3],[13.42,3.11],[13.6,3.76],[13.81,3.33],[13.94,3.15],[14.06,3.02],[14.31,3.39],[14.64,3.63],[14.78,3.58],[14.92,3.39],[15.15,3.85],[15.19,3.48],[15.36,3.76],[15.61,4.08],[15.82,3.67],[15.99,3.85],[16.19,3.11],[16.44,3.48],[16.63,3.3],[16.86,3.45],[17.14,3.2],[17.21,3.48],[17.65,3.67],[17.69,3.07],[17.97,3.48],[18.39,3.52],[18.6,3.85],[19.04,3.71],[19.25,3.67],
[10.33,2.59],[10.58,2.36],[10.78,1.81],[11.0,2.27],[11.06,1.99],[11.24,2.09],[11.44,1.81],[11.65,2.46],[11.79,2.36],[11.97,2.55],[12.1,1.71],[12.24,2.18],[12.49,1.62],[12.69,1.81],[12.78,2.89],[12.9,3.15],[13.08,1.21],[13.25,2.7],[13.42,1.81],[13.75,1.53],[13.88,2.46],[13.97,1.53],[14.22,1.62],[14.36,2.27],[14.5,2.74],[14.58,1.1],[14.78,1.01],[14.99,1.77],[15.19,2.74],[15.26,1.01],[15.44,1.34],[15.65,2.27],[15.75,2.74],[16.0,2.64],[16.15,1.43],[16.36,2.68],[16.79,2.36],[16.82,1.53],[16.86,1.1],[16.79,0.09],[16.93,2.64],[17.25,1.77],[17.44,2.46],[17.69,3.02],[18.22,2.59],[18.43,1.68],[18.46,2.83],[18.63,1.01],[18.83,1.68],[18.9,2.03],[19.08,2.14],[19.29,2.4],[20.06,1.1],[20.14,1.34],[20.38,2.59],[20.65,2.14],[20.4,4.19],[20.06,4.97],[19.71,4.38],[10.24,1.66],[10.39,1.53],[10.47,0.78],[10.64,1.47],[10.75,0.91],[10.44,2.27],[10.19,2.92],[11.03,1.15],[11.54,0.84]];

const panelPoints = [pts100, pts50, ptsBelow, ptsControl];

// ---------- layout ----------
const layout = [
  {left: 0,   top: 0,   w: 617, h: 464, mL: 63.3, mR: 9.5, mT: 50,   mB: 64.7, titleDx: -12, titleDy: -39, tickPad: 8, xLabDy: 50},
  {left: 617, top: 0,   w: 625, h: 464, mL: 75.7, mR: 4.5, mT: 50,   mB: 64.7, titleDx: -3,  titleDy: -39, tickPad: 8, xLabDy: 50},
  {left: 0,   top: 464, w: 617, h: 464, mL: 63.3, mR: 9.5, mT: 56.7, mB: 57.6, titleDx: -12, titleDy: -32, tickPad: 5, xLabDy: 49},
  {left: 617, top: 464, w: 625, h: 464, mL: 75.7, mR: 4.5, mT: 56.7, mB: 57.6, titleDx: -3,  titleDy: -32, tickPad: 5, xLabDy: 49}
];
const annotPos = {x: 0.77, y: 16.95};
const FONT = "'Liberation Sans', Arial, Helvetica, sans-serif";
const wrap = document.getElementById("wrap");
const NS = "http://www.w3.org/2000/svg";

panelPoints.forEach((pts, i) => {
  const L = layout[i];
  const xr = xUpper[i];
  const annotText = `R2 = ${r2Values[i]} ; F2, ${dfDenom[i]} = ${fValues[i]} ; p < 1e-04`;
  const svg = Plot.plot({
    width: L.w, height: L.h,
    marginLeft: L.mL, marginRight: L.mR, marginTop: L.mT, marginBottom: L.mB,
    x: {domain: [-0.04 * xr, xr * 1.04]},
    y: {domain: [-0.04 * yUpper - 0.02, yUpper * 1.04]},
    style: {fontFamily: FONT, fontSize: "11px", color: "#000", background: "transparent", overflow: "visible", maxWidth: "none"},
    marks: [
      Plot.gridX(xTicks, {stroke: "#d3d3d3", strokeOpacity: 1, strokeWidth: 1}),
      Plot.gridY(yTicks, {stroke: "#d3d3d3", strokeOpacity: 1, strokeWidth: 1}),
      Plot.ruleY([yTicks[0]], {stroke: "#e2e2e2", strokeWidth: 2}),
      Plot.dot(pts, {x: d => d[0], y: d => d[1], r: 1.6, fill: "#000"}),
      Plot.line([fitStart[i], fitEnd[i]], {x: d => d[0], y: d => d[1], stroke: "#00cc00", strokeWidth: 2.5}),
      Plot.frame({stroke: "#000", strokeWidth: 1.3}),
      Plot.axisX(xTicks, {tickSize: 6, tickPadding: L.tickPad, label: null, fontSize: 11, stroke: "#333"}),
      Plot.axisY(yTicks, {tickSize: 6, tickPadding: 5, tickRotate: -90, label: null, fontSize: 11, stroke: "#333"}),
      Plot.text([xLabel], {text: d => d, frameAnchor: "bottom", dy: L.xLabDy, fontSize: 11}),
      Plot.text([yLabel], {text: d => d, frameAnchor: "left", dx: -35, rotate: -90, fontSize: 11}),
      Plot.text([panelTitles[i]], {text: d => d, frameAnchor: "top", dx: L.titleDx, dy: L.titleDy, fontSize: 19, fontWeight: "bold"}),
      Plot.text([annotText], {text: d => d, x: annotPos.x, y: annotPos.y, textAnchor: "start", fontSize: 11})
    ]
  });
  // rich text for the statistics annotation
  const t = Array.from(svg.querySelectorAll("text")).find(e => e.textContent === annotText);
  if (t) {
    t.textContent = "";
    t.setAttribute("style", "white-space:pre");
    const add = (s, attrs) => {
      const ts = document.createElementNS(NS, "tspan");
      ts.textContent = s;
      if (attrs) for (const k in attrs) ts.setAttribute(k, attrs[k]);
      t.appendChild(ts);
    };
    add("R");
    add("2", {dy: "-4", "font-size": "8"});
    add(` = ${r2Values[i]} ; F`, {dy: "4"});
    add(`2, ${dfDenom[i]}`, {dy: "3", "font-size": "8"});
    add(` = ${fValues[i]} ; p < 1e-04`, {dy: "-3"});
  }
  const div = document.createElement("div");
  div.className = "panel";
  div.style.left = L.left + "px";
  div.style.top = L.top + "px";
  div.style.width = L.w + "px";
  div.style.height = L.h + "px";
  div.appendChild(svg);
  wrap.appendChild(div);
});
</script>
</body></html>
